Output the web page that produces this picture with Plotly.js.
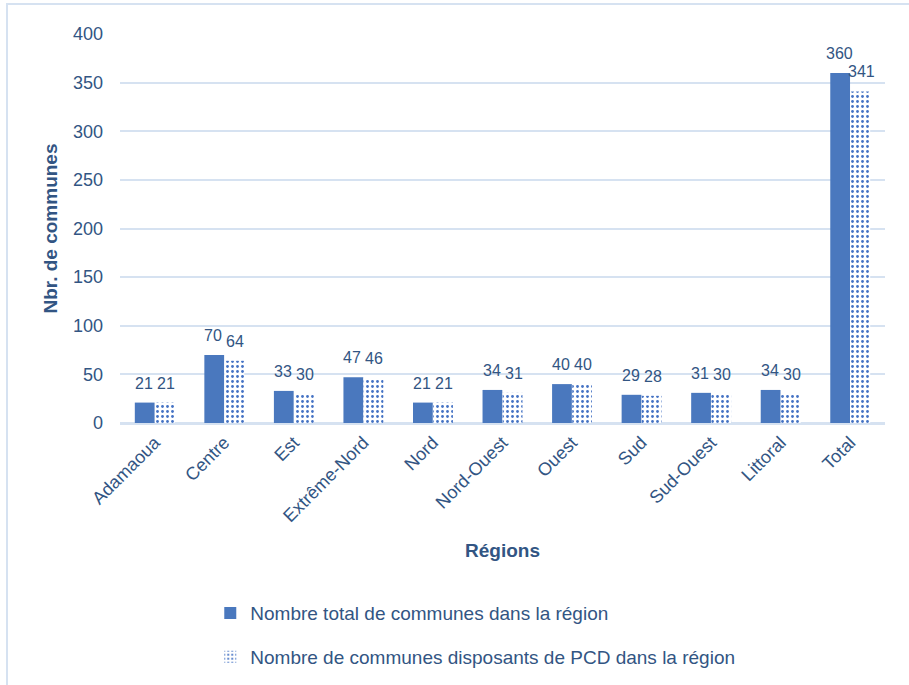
<!DOCTYPE html>
<html>
<head>
<meta charset="utf-8">
<script src="https://cdn.plot.ly/plotly-3.0.1.min.js"></script>
<style>html,body{margin:0;padding:0;background:#fff;}#chart{width:909px;height:685px;}</style>
</head>
<body>
<div id="chart"></div>
<script>
var regions = ["Adamaoua","Centre","Est","Extrême-Nord","Nord","Nord-Ouest","Ouest","Sud","Sud-Ouest","Littoral","Total"];
var totalCommunes = [21,70,33,47,21,34,40,29,31,34,360];
var communesPCD = [21,64,30,46,21,31,40,28,30,30,341];
var seriesNames = ["Nombre total de communes dans la région","Nombre de communes disposants de PCD dans la région"];

var FONT = '"Liberation Sans Narrow","Arial Narrow","Liberation Sans",Arial,sans-serif';
var TXT = '#325583';

var traces = [
  {
    type:'bar', name:seriesNames[0], x:regions, y:totalCommunes,
    marker:{color:'#4A78BE', line:{width:0}},
    legendgroup:'a'
  },
  {
    type:'bar', name:seriesNames[1], x:regions, y:communesPCD,
    marker:{color:'#ffffff', line:{width:0},
      pattern:{shape:'.', fgcolor:'#4472C4', bgcolor:'#ffffff', size:5, solidity:0.24, fillmode:'replace'}},
    legendgroup:'b'
  }
];

function labels(vals, shift){
  return regions.map(function(r,i){
    return {x:r, y:vals[i], xref:'x', yref:'y', text:String(vals[i]), showarrow:false,
      xanchor:'center', yanchor:'bottom', xshift:shift, yshift:9,
      font:{family:FONT,size:16,color:TXT}};
  });
}

var layout = {
  width:909, height:685,
  margin:{l:120, r:24, t:34, b:262, autoexpand:false},
  paper_bgcolor:'#ffffff', plot_bgcolor:'#ffffff',
  font:{family:FONT, size:18, color:TXT},
  barmode:'group', bargap:0.42, bargroupgap:0.02,
  showlegend:true,
  legend:{
    orientation:'v', traceorder:'grouped', tracegroupgap:16,
    x:0.118, y:-0.44, xanchor:'left', yanchor:'top',
    font:{family:FONT,size:19,color:TXT}, itemwidth:30
  },
  xaxis:{
    type:'category', tickangle:-45, showgrid:false, ticks:'', showline:true, automargin:false,
    linecolor:'#D6E2F1', linewidth:2, tickfont:{family:FONT,size:18,color:TXT},
    title:{text:'Régions', font:{family:FONT,size:19,color:TXT,weight:'bold'}, standoff:19}
  },
  yaxis:{
    range:[0,400], dtick:50, showgrid:true, gridcolor:'#D6E2F1', gridwidth:2, automargin:false,
    zeroline:true, zerolinecolor:'#D6E2F1', zerolinewidth:2, ticks:'',
    ticklabelstandoff:16, tickfont:{family:FONT,size:18,color:TXT},
    title:{text:'Nbr. de communes', font:{family:FONT,size:19,color:TXT,weight:'bold'}, standoff:10}
  },
  annotations: labels(totalCommunes,-11).concat(labels(communesPCD,11)),
  shapes:[{
    type:'rect', xref:'paper', yref:'paper', x0:-0.1477, x1:1.04, y0:-0.7, y1:1.0771,
    line:{color:'#D6E2F1', width:2}, fillcolor:'rgba(0,0,0,0)', layer:'below'
  }]
};

Plotly.newPlot('chart', traces, layout, {displayModeBar:false, staticPlot:true});
</script>
</body>
</html>
